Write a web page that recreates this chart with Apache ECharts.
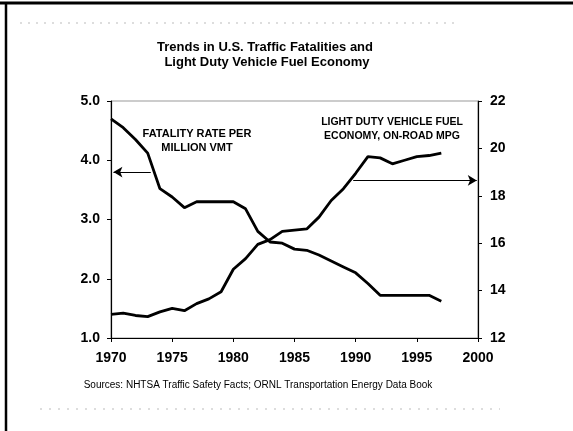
<!DOCTYPE html>
<html>
<head>
<meta charset="utf-8">
<script src="https://cdn.jsdelivr.net/npm/echarts@6/dist/echarts.min.js"></script>
<style>
html,body{margin:0;padding:0;background:#fff;}
#chart{width:573px;height:431px;}
</style>
</head>
<body>
<div id="chart"></div>
<script>
const years = [1970,1971,1972,1973,1974,1975,1976,1977,1978,1979,1980,1981,1982,1983,1984,1985,1986,1987,1988,1989,1990,1991,1992,1993,1994,1995,1996,1997];
const fatalityRate = [4.70,4.55,4.35,4.12,3.52,3.38,3.20,3.30,3.30,3.30,3.30,3.18,2.80,2.62,2.60,2.50,2.48,2.40,2.30,2.20,2.10,1.92,1.72,1.72,1.72,1.72,1.72,1.62];
const fuelEconomy = [13.0,13.05,12.95,12.9,13.1,13.25,13.15,13.45,13.65,13.95,14.9,15.35,15.95,16.15,16.5,16.55,16.6,17.1,17.8,18.3,18.95,19.65,19.6,19.35,19.5,19.65,19.7,19.8];
const xTicks = [1970,1975,1980,1985,1990,1995,2000];
const leftTicks = [1.0,2.0,3.0,4.0,5.0];
const rightTicks = [12,14,16,18,20,22];
const titleLines = ['Trends in U.S. Traffic Fatalities and','Light Duty Vehicle Fuel Economy'];
const fatalityLabel = 'FATALITY RATE PER\nMILLION VMT';
const fuelLabel = 'LIGHT DUTY VEHICLE FUEL\nECONOMY, ON-ROAD MPG';
const sourceText = 'Sources: NHTSA Traffic Safety Facts; ORNL Transportation Energy Data Book';
// arrow annotations: [fromYear, toYear, value]
const fatalityArrow = [1973.25, 1970.2, 3.8];
const fuelArrow = [1989.8, 1999.9, 18.65];

const chart = echarts.init(document.getElementById('chart'), null, {renderer:'canvas'});
const axisFont = {fontFamily:'"Liberation Sans", Arial', fontWeight:'bold', fontSize:14, color:'#000'};
const option = {
  animation:false,
  backgroundColor:'#fff',
  grid:{left:111, right:95, top:101, bottom:93, show:true, borderColor:'#999', borderWidth:1},
  xAxis:{
    type:'value', min:xTicks[0], max:xTicks[xTicks.length-1], interval:5,
    axisLine:{show:true, lineStyle:{color:'#000', width:1.2}},
    axisTick:{show:true, length:4, lineStyle:{color:'#000'}},
    splitLine:{show:false},
    axisLabel:Object.assign({margin:13, formatter:v=>String(v)}, axisFont)
  },
  yAxis:[{
    type:'value', min:leftTicks[0], max:leftTicks[leftTicks.length-1], interval:1,
    axisLine:{show:true, lineStyle:{color:'#000', width:1.2}},
    axisTick:{show:true, length:4, lineStyle:{color:'#000'}},
    splitLine:{show:false},
    axisLabel:Object.assign({margin:11, formatter:v=>v.toFixed(1)}, axisFont)
  },{
    type:'value', min:rightTicks[0], max:rightTicks[rightTicks.length-1], interval:2, position:'right',
    axisLine:{show:true, lineStyle:{color:'#000', width:1.2}},
    axisTick:{show:true, length:4, lineStyle:{color:'#000'}},
    splitLine:{show:false},
    axisLabel:Object.assign({margin:12, formatter:v=>String(v)}, axisFont)
  }],
  series:[{
    name:'Fatality rate', type:'line', yAxisIndex:0, showSymbol:false, symbol:'none',
    data:years.map((y,i)=>[y,fatalityRate[i]]),
    lineStyle:{color:'#000', width:2.8}, itemStyle:{color:'#000'},
    markLine:{silent:true, symbol:['none','arrow'], symbolSize:[8,9], label:{show:false},
      lineStyle:{color:'#000', width:1, type:'solid'},
      data:[[{coord:[fatalityArrow[0],fatalityArrow[2]]},{coord:[fatalityArrow[1],fatalityArrow[2]]}]]}
  },{
    name:'Fuel economy', type:'line', yAxisIndex:1, showSymbol:false, symbol:'none',
    data:years.map((y,i)=>[y,fuelEconomy[i]]),
    lineStyle:{color:'#000', width:2.8}, itemStyle:{color:'#000'},
    markLine:{silent:true, symbol:['none','arrow'], symbolSize:[8,9], label:{show:false},
      lineStyle:{color:'#000', width:1, type:'solid'},
      data:[[{coord:[fuelArrow[0],fuelArrow[2]]},{coord:[fuelArrow[1],fuelArrow[2]]}]]}
  }],
  graphic:[
    {type:'line', shape:{x1:0,y1:3,x2:573,y2:3}, style:{stroke:'#000', lineWidth:3}},
    {type:'line', shape:{x1:6,y1:2,x2:6,y2:431}, style:{stroke:'#000', lineWidth:2.5}},
    {type:'line', shape:{x1:20,y1:23,x2:460,y2:23}, style:{stroke:'#bbb', lineWidth:1, lineDash:[2,6]}},
    {type:'line', shape:{x1:40,y1:409,x2:500,y2:409}, style:{stroke:'#bbb', lineWidth:1, lineDash:[2,7]}},
    {type:'text', x:265, y:47, style:{text:titleLines[0], textAlign:'center', textVerticalAlign:'middle', font:'bold 13px "Liberation Sans", Arial', fill:'#000'}},
    {type:'text', x:267, y:62, style:{text:titleLines[1], textAlign:'center', textVerticalAlign:'middle', font:'bold 13px "Liberation Sans", Arial', fill:'#000'}},
    {type:'text', x:197, y:140.5, style:{text:fatalityLabel, textAlign:'center', textVerticalAlign:'middle', font:'bold 11px "Liberation Sans", Arial', lineHeight:14, fill:'#000'}},
    {type:'text', x:392, y:129.5, style:{text:fuelLabel, textAlign:'center', textVerticalAlign:'middle', font:'bold 10.5px "Liberation Sans", Arial', lineHeight:14, fill:'#000'}},
    {type:'text', x:258, y:385, style:{text:sourceText, textAlign:'center', textVerticalAlign:'middle', font:'10px "Liberation Sans", Arial', fill:'#000'}}
  ]
};
chart.setOption(option);
</script>
</body>
</html>
